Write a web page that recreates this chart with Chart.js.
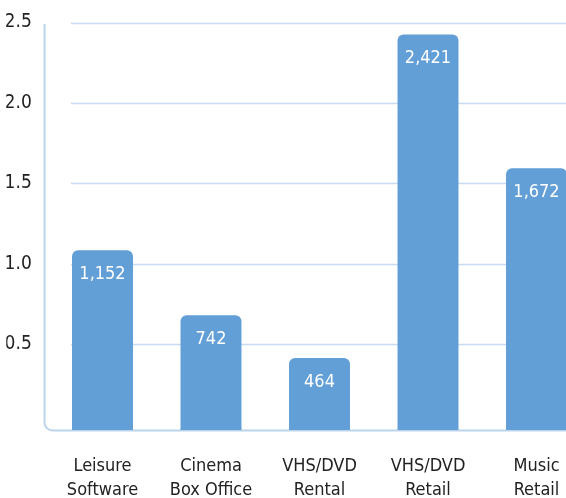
<!DOCTYPE html>
<html>
<head>
<meta charset="utf-8">
<script src="https://cdn.jsdelivr.net/npm/chart.js@4.4.1/dist/chart.umd.min.js"></script>
<style>
  html, body { margin: 0; padding: 0; background: #fff; overflow: hidden; }
  #wrap { width: 566px; height: 498px; overflow: hidden; position: relative; }
  canvas { display: block; }
</style>
</head>
<body>
<div id="wrap"><canvas id="myChart" width="592" height="498"></canvas></div>
<script>
// categories (two-line labels)
const categories = [
    ['Leisure', 'Software'],
    ['Cinema', 'Box Office'],
    ['VHS/DVD', 'Rental'],
    ['VHS/DVD', 'Retail'],
    ['Music', 'Retail']
];
// bar heights as drawn against the axis
const barValues = [1.084, 0.680, 0.413, 2.425, 1.593];
// printed labels in the bars
const valueLabels = ['1,152', '742', '464', '2,421', '1,672'];
// y ticks
const yTicks = [0.5, 1.0, 1.5, 2.0, 2.5];
const yMin = -0.034;
const yMax = 2.5;

const FONT = '"DejaVu Sans Condensed", "Liberation Sans Narrow", sans-serif';
const barColor = '#639fd7';

// gridlines + rounded axis line + value labels
const axisPlugin = {
    id: 'axisPlugin',
    beforeDatasetsDraw(chart) {
        const ctx = chart.ctx;
        const y = chart.scales.y;
        const bar0 = chart.getDatasetMeta(0).data[0];
        const gx = bar0.x - bar0.width / 2 - 1;
        ctx.save();
        ctx.strokeStyle = '#c6dbf1';
        ctx.lineWidth = 1.5;
        yTicks.forEach(t => {
            const py = Math.round(y.getPixelForValue(t)) + 0.5;
            ctx.beginPath();
            ctx.moveTo(gx, py);
            ctx.lineTo(chart.width, py);
            ctx.stroke();
        });
        // axis line, rounded corner
        const ax = 44.5;
        const by = chart.chartArea.bottom + 0.5;
        const r = 8;
        ctx.strokeStyle = '#bcd3ec';
        ctx.lineWidth = 2;
        ctx.beginPath();
        ctx.moveTo(ax, 24);
        ctx.lineTo(ax, by - r);
        ctx.arcTo(ax, by, ax + r, by, r);
        ctx.lineTo(chart.width, by);
        ctx.stroke();
        ctx.restore();
    },
    afterDatasetsDraw(chart) {
        const ctx = chart.ctx;
        ctx.save();
        ctx.fillStyle = '#ffffff';
        ctx.font = '18px ' + FONT;
        ctx.textAlign = 'center';
        ctx.textBaseline = 'middle';
        chart.getDatasetMeta(0).data.forEach((bar, i) => {
            ctx.fillText(valueLabels[i], bar.x, bar.y + 24);
        });
        ctx.restore();
    }
};

const ctx = document.getElementById('myChart').getContext('2d');
new Chart(ctx, {
    type: 'bar',
    data: {
        labels: categories,
        datasets: [{
            data: barValues,
            base: yMin,
            backgroundColor: barColor,
            borderRadius: { topLeft: 6, topRight: 6, bottomLeft: 0, bottomRight: 0 },
            borderSkipped: 'bottom',
            barPercentage: 0.562,
            categoryPercentage: 1.0
        }]
    },
    options: {
        responsive: false,
        animation: false,
        layout: { padding: { left: 6.25, right: 1.25, top: 22.5, bottom: 0 } },
        plugins: { legend: { display: false }, tooltip: { enabled: false } },
        scales: {
            x: {
                grid: { display: false, drawTicks: false },
                border: { display: false },
                ticks: {
                    color: '#222',
                    font: { family: FONT, size: 18, lineHeight: 1.33 },
                    padding: 24,
                    maxRotation: 0,
                    autoSkip: false
                },
                afterFit(scale) {
                    scale.height = 68;
                    scale.paddingLeft = 0;
                    scale.paddingRight = 0;
                }
            },
            y: {
                min: yMin,
                max: yMax,
                grid: { display: false, drawTicks: false },
                border: { display: false },
                afterBuildTicks(scale) {
                    scale.ticks = yTicks.map(v => ({ value: v }));
                },
                ticks: {
                    color: '#222',
                    font: { family: FONT, size: 19 },
                    padding: 16.5,
                    callback: v => Number(v).toFixed(1)
                },
                afterFit(scale) {
                    scale.width = 42;
                    scale.paddingTop = 0;
                    scale.paddingBottom = 0;
                }
            }
        }
    },
    plugins: [axisPlugin]
});
</script>
</body>
</html>
